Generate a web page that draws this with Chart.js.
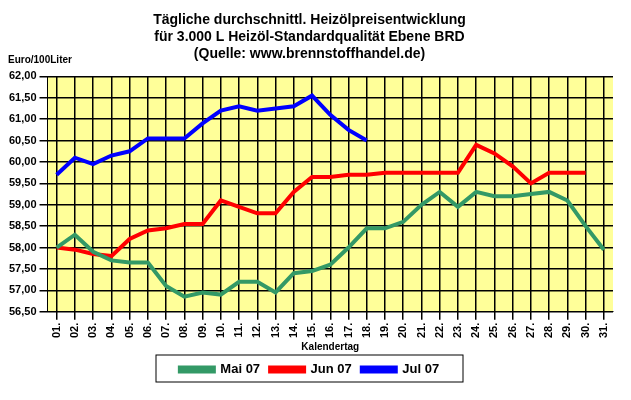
<!DOCTYPE html><html><head><script src="https://cdn.jsdelivr.net/npm/chart.js"></script>
<style>body{margin:0;background:#fff}#w{width:631px;height:400px;position:relative}
#u{position:absolute;left:8px;top:54px;font:bold 10px Arial;}</style></head><body>
<div id="w"><canvas id="c" width="631" height="400"></canvas><div id="u">Euro/100Liter</div></div>
<script>
const days=["01.","02.","03.","04.","05.","06.","07.","08.","09.","10.","11.","12.","13.","14.","15.","16.","17.","18.","19.","20.","21.","22.","23.","24.","25.","26.","27.","28.","29.","30.","31."];
const mai=[58.0,58.3,57.9,57.7,57.65,57.65,57.1,56.85,56.95,56.9,57.2,57.2,56.95,57.4,57.45,57.6,58.0,58.45,58.45,58.6,59.0,59.3,58.95,59.3,59.2,59.2,59.25,59.3,59.1,58.5,57.95];
const jun=[58.0,57.95,57.85,57.8,58.2,58.4,58.45,58.55,58.55,59.1,58.95,58.8,58.8,59.3,59.65,59.65,59.7,59.7,59.75,59.75,59.75,59.75,59.75,60.4,60.2,59.9,59.5,59.75,59.75,59.75];
const jul=[59.7,60.1,59.95,60.15,60.25,60.55,60.55,60.55,60.9,61.2,61.3,61.2,61.25,61.3,61.55,61.1,60.75,60.5];
const bg={id:'bg',beforeDraw(ch){const a=ch.chartArea,x=ch.ctx;x.save();x.fillStyle='#ffff99';x.fillRect(a.left,a.top,a.right-a.left,a.bottom-a.top);x.restore();},
afterDraw(ch){const l=ch.legend,x=ch.ctx;x.save();x.strokeStyle='#000';x.lineWidth=1;x.strokeRect(l.left+150,l.top+2,l.width-300,l.height-6);x.restore();}};
const ds=(l,d,c)=>({label:l,data:d,borderColor:c,backgroundColor:c,borderWidth:4,pointRadius:0,tension:0});
new Chart(document.getElementById('c'),{type:'line',data:{labels:days,datasets:[ds('Mai 07',mai,'#339966'),ds('Jun 07',jun,'#ff0000'),ds('Jul 07',jul,'#0000ff')]},
options:{responsive:false,animation:false,layout:{padding:{left:6,right:18,top:0,bottom:14}},
plugins:{title:{display:true,text:['Tägliche durchschnittl. Heizölpreisentwicklung','für 3.000 L Heizöl-Standardqualität Ebene BRD','(Quelle: www.brennstoffhandel.de)'],color:'#000',font:{family:'Arial',size:14,weight:'bold'},padding:{top:12,bottom:14}},
legend:{position:'bottom',labels:{color:'#000',boxWidth:34,boxHeight:4,font:{family:'Arial',size:13,weight:'bold'}}}},
scales:{x:{offset:true,grid:{color:'#000',lineWidth:1.5},border:{color:'#000'},ticks:{color:'#000',maxRotation:90,minRotation:90,autoSkip:false,font:{family:'Arial',size:11,weight:'bold'}},title:{display:true,text:'Kalendertag',color:'#000',font:{family:'Arial',size:10,weight:'bold'},padding:0}},
y:{min:56.5,max:62,grid:{color:'#000',lineWidth:1.5},border:{color:'#000'},ticks:{stepSize:0.5,color:'#000',font:{family:'Arial',size:11,weight:'bold'},callback:v=>v.toFixed(2).replace('.',',')}}}},plugins:[bg]});
</script></body></html>
